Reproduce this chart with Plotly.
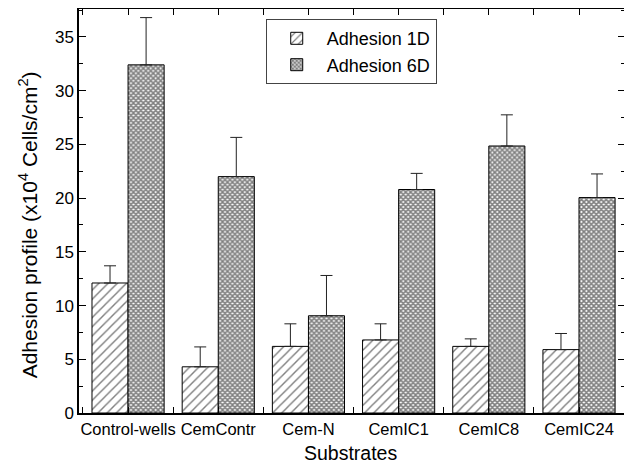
import plotly.graph_objects as go

categories = ["Control-wells", "CemContr", "Cem-N", "CemIC1", "CemIC8", "CemIC24"]
adhesion_1d = [12.1, 4.3, 6.2, 6.8, 6.2, 5.9]
adhesion_1d_err = [1.6, 1.85, 2.1, 1.5, 0.7, 1.5]
adhesion_6d = [32.4, 22.0, 9.05, 20.8, 24.85, 20.05]
adhesion_6d_err = [4.4, 3.65, 3.75, 1.5, 2.9, 2.2]

xpos = list(range(len(categories)))
boundaries = [i - 0.5 for i in range(len(categories) + 1)]

fig = go.Figure()
fig.add_trace(go.Bar(
    x=xpos, y=adhesion_1d, name="Adhesion 1D",
    marker=dict(color="white", line=dict(color="black", width=1),
                pattern=dict(shape="/", fgcolor="black", bgcolor="white", size=6.5, solidity=0.22)),
    error_y=dict(type="data", array=adhesion_1d_err, arrayminus=[0]*6, symmetric=False,
                 color="#222222", thickness=1, width=6),
))
fig.add_trace(go.Bar(
    x=xpos, y=adhesion_6d, name="Adhesion 6D",
    marker=dict(color="white", line=dict(color="black", width=1),
                pattern=dict(shape="x", fgcolor="black", bgcolor="white", size=3.5, solidity=0.7)),
    error_y=dict(type="data", array=adhesion_6d_err, arrayminus=[0]*6, symmetric=False,
                 color="#222222", thickness=1, width=6),
))

font = "Liberation Sans, Arial, sans-serif"
fig.update_layout(
    width=632, height=465,
    margin=dict(l=71, r=15, t=1, b=60),
    paper_bgcolor="white", plot_bgcolor="white",
    barmode="group", bargap=0.2, bargroupgap=0,
    font=dict(family=font, size=17, color="black"),
    showlegend=True,
    legend=dict(x=0.342, y=0.975, xanchor="left", yanchor="top",
                bordercolor="#444444", borderwidth=1, bgcolor="white",
                font=dict(size=18), tracegroupgap=0, itemwidth=50),
    xaxis=dict(
        range=[-0.544, 5.51], tickvals=xpos, ticktext=categories,
        ticks="inside", ticklen=6, tickcolor="black",
        showline=True, linecolor="black", linewidth=1.5, mirror="ticks",
        showgrid=False, zeroline=False, automargin=False,
        tickfont=dict(size=16.5),
        minor=dict(tickvals=boundaries, ticks="inside", ticklen=6, tickcolor="black", showgrid=False),
    ),
    yaxis=dict(
        range=[0, 37.6], dtick=5, tick0=0,
        ticks="inside", ticklen=7, tickcolor="black",
        showline=True, linecolor="black", linewidth=1.5, mirror="ticks",
        showgrid=False, zeroline=False, automargin=False,
        tickfont=dict(size=17),
        minor=dict(dtick=2.5, ticks="inside", ticklen=4, tickcolor="black", showgrid=False),
    ),
    annotations=[
        dict(text="Adhesion profile (x10<sup>4</sup> Cells/cm<sup>2</sup>)",
             xref="paper", yref="paper", x=-0.093, y=0.465,
             xanchor="center", yanchor="middle", textangle=-90, showarrow=False,
             font=dict(size=21)),
        dict(text="Substrates",
             xref="paper", yref="paper", x=0.498, y=-0.099,
             xanchor="center", yanchor="middle", showarrow=False,
             font=dict(size=19.5)),
    ],
)

fig.write_html("out.html")
